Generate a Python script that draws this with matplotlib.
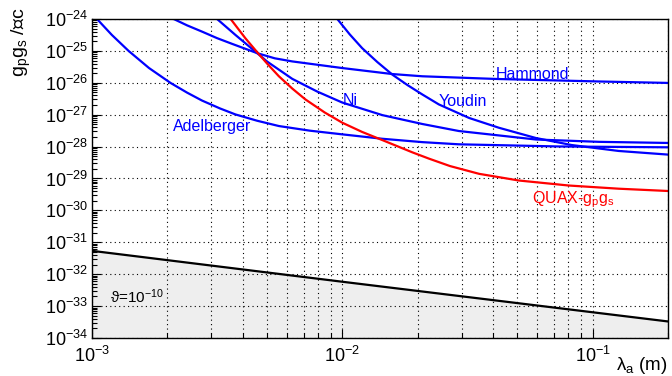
import numpy as np
import matplotlib
matplotlib.use('Agg')
import matplotlib.pyplot as plt
from matplotlib.ticker import FixedLocator, LogLocator, NullFormatter

plt.rcParams['font.family'] = ['Liberation Sans', 'DejaVu Sans']
plt.rcParams['mathtext.fontset'] = 'custom'
plt.rcParams['mathtext.rm'] = 'Liberation Sans'
plt.rcParams['mathtext.it'] = 'Liberation Sans:italic'
plt.rcParams['mathtext.bf'] = 'Liberation Sans:bold'

# limits (lambda in m, coupling g_p g_s / hbar c)
adel_lam = [1.047e-3, 1.20e-3, 1.40e-3, 1.69e-3, 2.06e-3, 2.40e-3, 2.75e-3, 3.24e-3,
            3.74e-3, 4.57e-3, 5.58e-3, 7.41e-3, 1.0e-2, 1.445e-2, 2.09e-2, 2.92e-2,
            7.32e-2, 0.201]
adel_g = [1e-24, 3.17e-25, 1e-25, 2.90e-26, 9.9e-27, 4.9e-27, 2.78e-27, 1.58e-27,
          1.02e-27, 6.46e-28, 4.41e-28, 3.16e-28, 2.42e-28, 1.76e-28, 1.38e-28, 1.18e-28,
          1.01e-28, 9.5e-29]

hamm_lam = [2.12e-3, 2.40e-3, 2.75e-3, 3.16e-3, 3.63e-3, 4.57e-3, 5.37e-3, 6.31e-3,
            1.0e-2, 1.585e-2, 2.09e-2, 4.11e-2, 0.106, 0.201]
hamm_g = [1e-24, 6.3e-25, 4.03e-25, 2.51e-25, 1.66e-25, 8.5e-26, 5.86e-26, 4.68e-26,
          2.90e-26, 1.88e-26, 1.60e-26, 1.32e-26, 1.10e-26, 9.9e-27]

ni_lam = [3.16e-3, 3.74e-3, 4.57e-3, 5.01e-3, 6.31e-3, 7.94e-3, 1.0e-2, 1.445e-2,
          2.09e-2, 2.92e-2, 5.93e-2, 0.106, 0.201]
ni_g = [1e-24, 3.17e-25, 8.5e-26, 4.62e-26, 1.33e-26, 5.31e-27, 2.4e-27, 9.7e-28,
        5.1e-28, 3.08e-28, 1.67e-28, 1.41e-28, 1.30e-28]

youd_lam = [9.55e-3, 1.07e-2, 1.20e-2, 1.38e-2, 1.585e-2, 1.82e-2, 2.09e-2, 2.43e-2,
            3.21e-2, 4.22e-2, 5.93e-2, 8.24e-2, 0.127, 0.201]
youd_g = [1e-24, 3.31e-25, 1.22e-25, 4.47e-26, 1.80e-26, 8.5e-27, 4.28e-27, 2.1e-27,
          7.9e-28, 3.9e-28, 1.86e-28, 1.12e-28, 7.3e-29, 5.6e-29]

quax_lam = [3.58e-3, 4.10e-3, 4.57e-3, 5.01e-3, 5.58e-3, 6.31e-3, 7.13e-3, 8.51e-3,
            1.0e-2, 1.2e-2, 1.445e-2, 1.905e-2, 2.22e-2, 2.69e-2, 3.52e-2, 5.07e-2,
            8.02e-2, 0.127, 0.201]
quax_g = [1e-24, 2.49e-25, 9.1e-26, 3.98e-26, 1.60e-26, 6.6e-27, 2.99e-27, 1.17e-27,
          5.6e-28, 2.88e-28, 1.60e-28, 6.6e-29, 4.19e-29, 2.46e-29, 1.40e-29, 8.65e-30,
          6.03e-30, 4.79e-30, 4.05e-30]

theta_lam = [1e-3, 1e-2, 0.2]
theta_g = [5.4e-32, 5.8e-33, 3.3e-34]

fig = plt.figure(figsize=(6.72, 3.76), dpi=100)
ax = fig.add_axes([92 / 672, 1 - 338 / 376, 576 / 672, 319 / 376])
ax.set_xscale('log')
ax.set_yscale('log')
ax.set_xlim(1e-3, 0.2)
ax.set_ylim(1e-34, 1e-24)

ax.fill_between(theta_lam, theta_g, 1e-34, color='#eeeeee', lw=0, zorder=0.2)
ax.plot(theta_lam, theta_g, color='black', lw=1.6)

blue = '#0000ff'
for lam, g in [(adel_lam, adel_g), (hamm_lam, hamm_g), (ni_lam, ni_g), (youd_lam, youd_g)]:
    ax.plot(lam, g, color=blue, lw=1.6, solid_joinstyle='round')
ax.plot(quax_lam, quax_g, color='#ff0000', lw=1.6, solid_joinstyle='round')

lab = dict(fontsize=11.5, va='baseline', ha='left')
ax.text(4.11e-2, 1.28e-26, 'Hammond', color=blue, **lab)
ax.text(1.0e-2, 2.0e-27, 'Ni', color=blue, **lab)
ax.text(2.43e-2, 1.87e-27, 'Youdin', color=blue, **lab)
ax.text(2.10e-3, 3.08e-28, 'Adelberger', color=blue, **lab)
ax.text(5.71e-2, 1.71e-30, r'QUAX-g$_{\rm p}$g$_{\rm s}$', color='#ff0000', **lab)
ax.text(1.18e-3, 1.25e-33, r'ϑ=10$^{-10}$', color='black', fontsize=11,
        va='baseline', ha='left')

# axes styling
ax.xaxis.set_major_locator(FixedLocator([1e-3, 1e-2, 1e-1]))
ax.yaxis.set_major_locator(FixedLocator([10.0 ** k for k in range(-34, -23)]))
ax.xaxis.set_minor_locator(LogLocator(base=10, subs=np.arange(2, 10), numticks=100))
ax.yaxis.set_minor_locator(LogLocator(base=10, subs=np.arange(2, 10), numticks=100))
ax.xaxis.set_minor_formatter(NullFormatter())
ax.yaxis.set_minor_formatter(NullFormatter())
ax.tick_params(which='both', direction='in', top=False, right=False, labelsize=13)
ax.tick_params(which='major', length=6.5, width=0.8)
ax.tick_params(which='minor', length=3.5, width=0.8)
ax.tick_params(axis='y', pad=3)
ax.tick_params(axis='x', pad=5.5)

ax.set_axisbelow(True)
dots = (0, (1, 3))
ax.grid(which='major', ls=dots, lw=0.8, color='black')
ax.xaxis.grid(which='minor', ls=dots, lw=0.8, color='black')
for s in ax.spines.values():
    s.set_linewidth(1.0)

fig.text(21 / 672, 1 - 8 / 376, r'g$_{\rm p}$g$_{\rm s}$ /ℏc', rotation=90,
         ha='center', va='top', fontsize=14)
fig.text(668 / 672, 1 - 370 / 376, r'λ$_{\rm a}$ (m)', ha='right', va='baseline',
         fontsize=13.5)

fig.savefig('out.png', dpi=100)
